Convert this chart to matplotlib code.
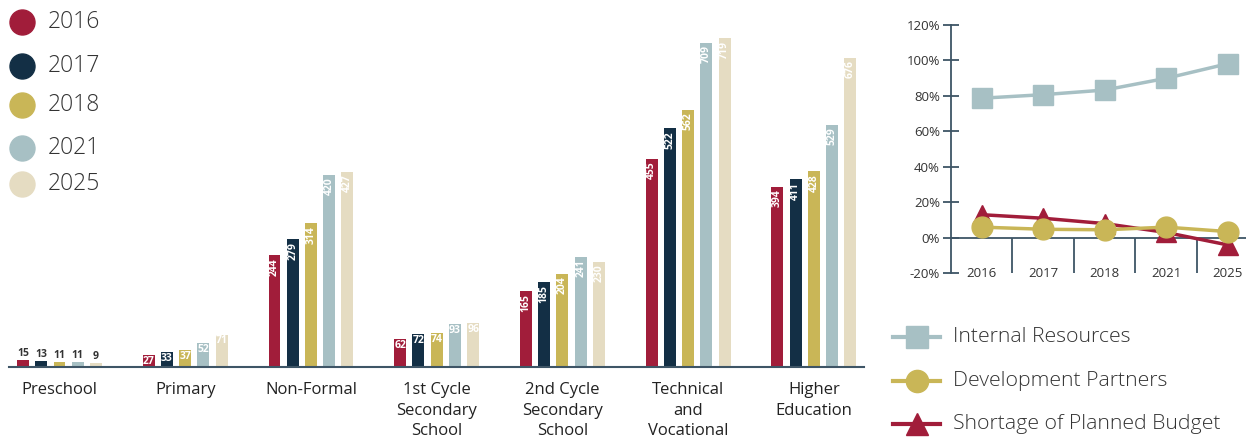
import numpy as np
import matplotlib.pyplot as plt
from matplotlib.lines import Line2D

plt.rcParams['font.family'] = ['Open Sans', 'DejaVu Sans']

# bar chart data
categories = ["Preschool", "Primary", "Non-Formal", "1st Cycle\nSecondary\nSchool",
              "2nd Cycle\nSecondary\nSchool", "Technical\nand\nVocational", "Higher\nEducation"]
years = ["2016", "2017", "2018", "2021", "2025"]
v2016 = [15, 27, 244, 62, 165, 455, 394]
v2017 = [13, 33, 279, 72, 185, 522, 411]
v2018 = [11, 37, 314, 74, 204, 562, 428]
v2021 = [11, 52, 420, 93, 241, 709, 529]
v2025 = [9, 71, 427, 96, 230, 719, 676]

# line chart data (share of budget, %)
internal = [78.6, 80.6, 83.2, 89.8, 98.0]
partners = [6.0, 4.8, 4.5, 6.0, 3.5]
shortage = [13.0, 11.0, 8.0, 3.0, -4.0]

colors = ["#A11D3A", "#132F45", "#C9B657", "#A7C0C4", "#E5DCC2"]
axis_col = "#3E5566"
text_col = "#333333"

W, H = 1246, 440
fig = plt.figure(figsize=(W / 100, H / 100), dpi=100)

# ---- grouped bars
ax = fig.add_axes([9.2 / W, 73 / H, 855 / W, 367 / H])
series = [v2016, v2017, v2018, v2021, v2025]
x = np.arange(len(categories))
pitch, width = 0.145, 0.095
for i, (vals, c) in enumerate(zip(series, colors)):
    xs = x + (i - 2) * pitch
    ax.bar(xs, vals, width=width, color=c)
    for xx, v in zip(xs, vals):
        if v < 20:
            ax.text(xx, v + 3, str(v), ha='center', va='bottom', fontsize=7.5,
                    fontweight='bold', color=text_col)
        elif v < 100:
            ax.text(xx, v - 2, str(v), ha='center', va='top', fontsize=7.5,
                    fontweight='bold', color='white')
        else:
            ax.text(xx, v - 6, str(v), ha='center', va='top', rotation=90,
                    fontsize=7.5, fontweight='bold', color='white')
ax.set_xlim(-0.4, 6.4)
ax.set_ylim(0, 367 / 0.4576)
for s in ['top', 'right', 'left']:
    ax.spines[s].set_visible(False)
ax.spines['bottom'].set_color(axis_col)
ax.spines['bottom'].set_linewidth(1.5)
ax.set_yticks([])
ax.set_xticks(x)
ax.set_xticklabels(categories, fontsize=12, color='#222222', linespacing=1.38, va='top')
ax.tick_params(axis='x', length=0, pad=11)

# bar legend (top left)
leg_y = [22, 66, 105, 148, 184]
for yr, c, yy in zip(years, colors, leg_y):
    fig.add_artist(Line2D([22 / W], [1 - yy / H], marker='o', markersize=18,
                          color=c, linestyle='none', transform=fig.transFigure))
    fig.text(48 / W, 1 - yy / H, yr, fontsize=16.5, fontweight='light',
             color=text_col, va='center', ha='left')

# ---- line chart
lx = np.arange(len(years))
ax2 = fig.add_axes([951 / W, (H - 273.3) / H, 295 / W, 248.6 / H])
ax2.plot(lx, internal, color=colors[3], lw=2.5, marker='s', markersize=15, clip_on=False, zorder=3)
ax2.plot(lx, shortage, color=colors[0], lw=2.5, marker='^', markersize=15, clip_on=False, zorder=4)
ax2.plot(lx, partners, color=colors[2], lw=2.5, marker='o', markersize=15, clip_on=False, zorder=5)
ax2.set_xlim(-0.5, 4.3)
ax2.set_ylim(-20, 120)
ax2.set_yticks(np.arange(-20, 121, 20))
ax2.set_yticklabels([f"{t}%" for t in range(-20, 121, 20)], fontsize=9.5, color=text_col)
ax2.tick_params(axis='y', direction='inout', length=12, width=1.3, color=axis_col, pad=2)
ax2.set_xticks([])
for s in ['top', 'right']:
    ax2.spines[s].set_visible(False)
ax2.spines['left'].set_color(axis_col)
ax2.spines['left'].set_linewidth(1.3)
ax2.spines['bottom'].set_position(('data', 0))
ax2.spines['bottom'].set_color(axis_col)
ax2.spines['bottom'].set_linewidth(1.3)
ax2.vlines(lx[:-1] + 0.5, -20, 0, color=axis_col, lw=1.3)
for xx, yr in zip(lx, years):
    ax2.text(xx, -20, yr, ha='center', va='center', fontsize=9.5, color=text_col)

# line legend
leg2 = [("Internal Resources", colors[3], 's', 337),
        ("Development Partners", colors[2], 'o', 381),
        ("Shortage of Planned Budget", colors[0], '^', 424)]
for name, c, m, yy in leg2:
    fig.add_artist(Line2D([893 / W, 940 / W], [1 - yy / H] * 2, color=c, lw=3,
                          transform=fig.transFigure))
    fig.add_artist(Line2D([917 / W], [1 - yy / H], marker=m, markersize=16, color=c,
                          linestyle='none', transform=fig.transFigure))
    fig.text(953 / W, 1 - yy / H, name, fontsize=15.3, fontweight='light',
             color=text_col, va='center', ha='left')

fig.savefig('out.png', dpi=100)
